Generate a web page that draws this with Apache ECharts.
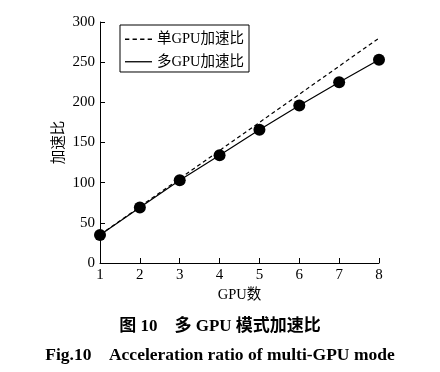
<!DOCTYPE html>
<html><head><meta charset="utf-8">
<script src="https://cdn.jsdelivr.net/npm/echarts@6/dist/echarts.min.js"></script>
<style>html,body{margin:0;padding:0;background:#fff}#c{width:440px;height:372px}</style>
</head><body><div id="c"></div>
<script>
const gpuCounts = [1, 2, 3, 4, 5, 6, 7, 8];
const singleSpeedup = [35, 70, 105, 140, 175, 210, 245, 280];
const multiSpeedup = [35, 69, 103, 134, 166, 196, 225, 253];
const seriesNames = ['单GPU加速比', '多GPU加速比'];
const yTicks = [0, 50, 100, 150, 200, 250, 300];
const captionCN = '图 10    多 GPU 模式加速比';
const captionEN = 'Fig.10    Acceleration ratio of multi-GPU mode';

const serif = '"Liberation Serif", "Noto Sans CJK SC", serif';
const dashIcon = 'path://M0,0h4v1.2h-4z M7,0h4v1.2h-4z M14,0h4v1.2h-4z M21,0h4v1.2h-4z';
const solidIcon = 'path://M0,0h25v1.2h-25z';
const chart = echarts.init(document.getElementById('c'), null, {renderer: 'canvas'});
chart.setOption({
  animation: false,
  backgroundColor: '#fff',
  textStyle: {fontFamily: serif, color: '#000'},
  title: [
    {text: captionCN, left: 'center', top: 313, textStyle: {fontFamily: serif, fontSize: 17, fontWeight: 'bold', color: '#000'}},
    {text: captionEN, left: 'center', top: 342, textStyle: {fontFamily: serif, fontSize: 17.5, fontWeight: 'bold', color: '#000'}}
  ],
  legend: {
    orient: 'vertical', left: 120, top: 25,
    borderColor: '#000', borderWidth: 1, borderRadius: 0,
    padding: [7, 5, 3, 5], itemGap: 8, itemWidth: 27, itemHeight: 14,
    textStyle: {fontFamily: serif, fontSize: 14.5, color: '#000'},
    itemStyle: {color: '#000'},
    data: [
      {name: seriesNames[0], icon: dashIcon, itemStyle: {color: '#000'}},
      {name: seriesNames[1], icon: solidIcon, itemStyle: {color: '#000'}}
    ]
  },
  grid: {left: 100, right: 61, top: 22, bottom: 109, containLabel: false},
  xAxis: {
    type: 'value', min: 1, max: 8, interval: 1,
    name: 'GPU数', nameLocation: 'middle', nameGap: 25, nameMoveOverlap: false,
    nameTextStyle: {fontFamily: serif, fontSize: 14.5, color: '#000'},
    axisLine: {lineStyle: {color: '#000', width: 1}},
    axisTick: {inside: true, length: 5, lineStyle: {color: '#000'}},
    axisLabel: {fontFamily: serif, fontSize: 15, color: '#000', margin: 5},
    splitLine: {show: false}
  },
  yAxis: {
    type: 'value', min: yTicks[0], max: yTicks[yTicks.length - 1], interval: 50,
    name: '加速比', nameLocation: 'middle', nameGap: 34, nameRotate: 90, nameMoveOverlap: false,
    nameTextStyle: {fontFamily: serif, fontSize: 14.5, color: '#000'},
    axisLine: {show: true, lineStyle: {color: '#000', width: 1}},
    axisTick: {show: true, inside: true, length: 5, lineStyle: {color: '#000'}},
    axisLabel: {fontFamily: serif, fontSize: 15, color: '#000', margin: 5},
    splitLine: {show: false}
  },
  series: [
    {
      name: seriesNames[0], type: 'line',
      data: gpuCounts.map((x, i) => [x, singleSpeedup[i]]),
      showSymbol: false, symbol: 'none',
      lineStyle: {color: '#000', width: 1.2, type: [4, 3]},
      itemStyle: {color: '#000'}
    },
    {
      name: seriesNames[1], type: 'line',
      data: gpuCounts.map((x, i) => [x, multiSpeedup[i]]),
      symbol: 'circle', symbolSize: 12,
      lineStyle: {color: '#000', width: 1.2},
      itemStyle: {color: '#000'}
    }
  ]
});
</script></body></html>
